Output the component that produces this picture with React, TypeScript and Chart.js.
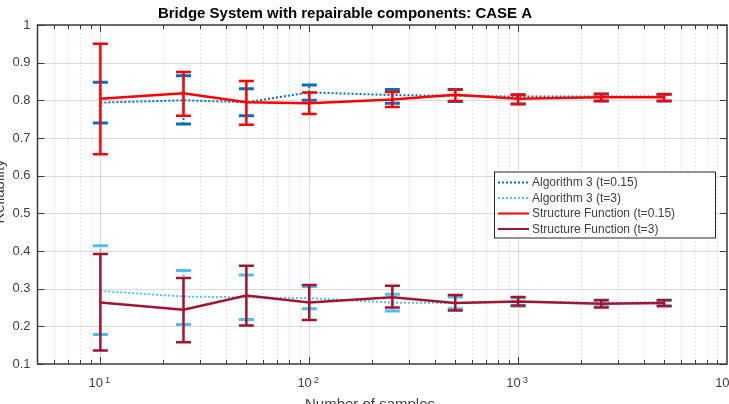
import React, { useEffect, useRef } from "react";
import { Chart, registerables } from "chart.js";

Chart.register(...registerables);

const FONT = '"Liberation Sans", Arial, Helvetica, sans-serif';

// Number of samples used for every estimate
const sampleSizes = [10, 25, 50, 100, 250, 500, 1000, 2500, 5000];

// Algorithm 3, t = 0.15
const alg3T015Mean = [0.794, 0.8, 0.795, 0.821, 0.814, 0.812, 0.81, 0.81, 0.81];
const alg3T015Low = [0.74, 0.737, 0.759, 0.8, 0.792, 0.797, 0.79, 0.798, 0.798];
const alg3T015High = [0.848, 0.865, 0.831, 0.841, 0.829, 0.829, 0.815, 0.817, 0.816];

// Algorithm 3, t = 3
const alg3T3Mean = [0.294, 0.279, 0.277, 0.275, 0.263, 0.262, 0.266, 0.262, 0.264];
const alg3T3Low = [0.178, 0.205, 0.218, 0.247, 0.241, 0.247, 0.253, 0.252, 0.255];
const alg3T3High = [0.414, 0.348, 0.336, 0.306, 0.285, 0.278, 0.276, 0.27, 0.27];

// Structure function, t = 0.15
const sfT015Mean = [0.804, 0.819, 0.795, 0.792, 0.802, 0.815, 0.804, 0.808, 0.808];
const sfT015Low = [0.657, 0.759, 0.735, 0.764, 0.782, 0.798, 0.79, 0.798, 0.798];
const sfT015High = [0.95, 0.875, 0.851, 0.821, 0.822, 0.828, 0.815, 0.817, 0.816];

// Structure function, t = 3
const sfT3Mean = [0.263, 0.244, 0.282, 0.263, 0.277, 0.262, 0.266, 0.26, 0.262];
const sfT3Low = [0.136, 0.158, 0.202, 0.217, 0.25, 0.242, 0.255, 0.25, 0.253];
const sfT3High = [0.392, 0.328, 0.361, 0.31, 0.308, 0.283, 0.278, 0.269, 0.269];

const seriesLabels = [
  "Algorithm 3 (t=0.15)",
  "Algorithm 3 (t=3)",
  "Structure Function (t=0.15)",
  "Structure Function (t=3)",
];

const titleText = "Bridge System with repairable components: CASE A";
const xAxisTitle = "Number of samples";
const yAxisTitle = "Reliability";

// Axis ranges and decade labels of the log axis
const xMin = 5;
const xMax = 10000;
const yMin = 0.1;
const yMax = 1;
const xDecades = [10, 100, 1000, 10000];
const xDecadeExponents = ["1", "2", "3", "4"];

const BLUE = "#0072BD";
const LIGHT_BLUE = "#4DBEEE";
const RED = "#FF0000";
const DARK_RED = "#A2142F";
const AXIS_COLOR = "#3a3a3a";
const TEXT_COLOR = "#404040";

function minorXValues(): number[] {
  const out: number[] = [];
  for (let d = 1; d < xMax; d *= 10) {
    for (let m = 2; m <= 9; m++) {
      const v = m * d;
      if (v > xMin && v < xMax) out.push(v);
    }
  }
  return out;
}

function yGridValues(): number[] {
  const out: number[] = [];
  for (let k = 1; k <= 10; k++) out.push(k / 10);
  return out;
}

type Series = {
  label: string;
  color: string;
  mean: number[];
  low: number[];
  high: number[];
  dotted: boolean;
  order: number;
};

const series: Series[] = [
  { label: seriesLabels[0], color: BLUE, mean: alg3T015Mean, low: alg3T015Low, high: alg3T015High, dotted: true, order: 4 },
  { label: seriesLabels[1], color: LIGHT_BLUE, mean: alg3T3Mean, low: alg3T3Low, high: alg3T3High, dotted: true, order: 3 },
  { label: seriesLabels[2], color: RED, mean: sfT015Mean, low: sfT015Low, high: sfT015High, dotted: false, order: 2 },
  { label: seriesLabels[3], color: DARK_RED, mean: sfT3Mean, low: sfT3Low, high: sfT3High, dotted: false, order: 1 },
];

// Grid lines under the data
const gridPlugin = {
  id: "matlabGrid",
  beforeDatasetsDraw(chart: any) {
    const { ctx, chartArea: a, scales } = chart;
    const xs = scales.x;
    const ys = scales.y;
    ctx.save();
    // minor dotted verticals
    ctx.strokeStyle = "rgba(38,38,38,0.16)";
    ctx.lineWidth = 1;
    ctx.setLineDash([1.5, 2.5]);
    for (const v of minorXValues()) {
      const px = Math.round(xs.getPixelForValue(v)) + 0.5;
      ctx.beginPath();
      ctx.moveTo(px, a.top);
      ctx.lineTo(px, a.bottom);
      ctx.stroke();
    }
    ctx.setLineDash([]);
    ctx.strokeStyle = "rgba(38,38,38,0.17)";
    for (const v of xDecades) {
      if (v <= xMin || v >= xMax) continue;
      const px = Math.round(xs.getPixelForValue(v)) + 0.5;
      ctx.beginPath();
      ctx.moveTo(px, a.top);
      ctx.lineTo(px, a.bottom);
      ctx.stroke();
    }
    for (const v of yGridValues()) {
      if (v <= yMin || v >= yMax) continue;
      const py = Math.round(ys.getPixelForValue(v)) + 0.5;
      ctx.beginPath();
      ctx.moveTo(a.left, py);
      ctx.lineTo(a.right, py);
      ctx.stroke();
    }
    ctx.restore();
  },
};

// Vertical error bars with caps, drawn right after each dataset's line
const errorBarPlugin = {
  id: "errorBars",
  afterDatasetDraw(chart: any, args: any) {
    const ds = chart.data.datasets[args.index] as any;
    if (!ds.errLow) return;
    const { ctx, scales } = chart;
    const xs = scales.x;
    const ys = scales.y;
    ctx.save();
    ctx.strokeStyle = ds.borderColor;
    ctx.lineCap = "butt";
    const half = 7.5;
    sampleSizes.forEach((n, i) => {
      const px = xs.getPixelForValue(n);
      const pLo = ys.getPixelForValue(ds.errLow[i]);
      const pHi = ys.getPixelForValue(ds.errHigh[i]);
      ctx.lineWidth = ds.dotted ? 2 : 2.5;
      ctx.setLineDash(ds.dotted ? [2, 2] : []);
      ctx.beginPath();
      ctx.moveTo(px, pLo);
      ctx.lineTo(px, pHi);
      ctx.stroke();
      ctx.setLineDash([]);
      ctx.lineWidth = ds.dotted ? 3 : 2.5;
      ctx.beginPath();
      ctx.moveTo(px - half, pLo);
      ctx.lineTo(px + half, pLo);
      ctx.moveTo(px - half, pHi);
      ctx.lineTo(px + half, pHi);
      ctx.stroke();
    });
    ctx.restore();
  },
};

// Axes box, inward ticks, decade labels, titles and legend
const framePlugin = {
  id: "matlabFrame",
  afterDraw(chart: any) {
    const { ctx, chartArea: a, scales } = chart;
    const xs = scales.x;
    const ys = scales.y;
    ctx.save();

    // ticks
    ctx.strokeStyle = AXIS_COLOR;
    ctx.lineWidth = 1;
    const major = 7;
    const minor = 4;
    const tickX = (v: number, len: number) => {
      const px = Math.round(xs.getPixelForValue(v)) + 0.5;
      ctx.beginPath();
      ctx.moveTo(px, a.bottom);
      ctx.lineTo(px, a.bottom - len);
      ctx.moveTo(px, a.top);
      ctx.lineTo(px, a.top + len);
      ctx.stroke();
    };
    for (const v of minorXValues()) tickX(v, minor);
    for (const v of xDecades) if (v > xMin && v < xMax) tickX(v, major);
    for (const v of yGridValues()) {
      const py = Math.round(ys.getPixelForValue(v)) + 0.5;
      ctx.beginPath();
      ctx.moveTo(a.left, py);
      ctx.lineTo(a.left + major, py);
      ctx.moveTo(a.right, py);
      ctx.lineTo(a.right - major, py);
      ctx.stroke();
    }

    // box
    ctx.lineWidth = 1.5;
    ctx.strokeRect(a.left, a.top, a.right - a.left, a.bottom - a.top);

    // decade labels 10^k
    ctx.fillStyle = TEXT_COLOR;
    ctx.textBaseline = "alphabetic";
    ctx.textAlign = "left";
    xDecades.forEach((v, i) => {
      const px = xs.getPixelForValue(v);
      ctx.font = `13px ${FONT}`;
      const wBase = ctx.measureText("10").width;
      ctx.font = `9.5px ${FONT}`;
      const wExp = ctx.measureText(xDecadeExponents[i]).width;
      const gap = 2;
      const left = px - 1 - (wBase + gap + wExp) / 2;
      ctx.font = `13px ${FONT}`;
      ctx.fillText("10", left, a.bottom + 23);
      ctx.font = `9.5px ${FONT}`;
      ctx.fillText(xDecadeExponents[i], left + wBase + gap, a.bottom + 18.5);
    });

    // title
    ctx.font = `bold 15px ${FONT}`;
    ctx.textAlign = "center";
    ctx.fillStyle = "#000000";
    ctx.fillText(titleText, 345, 18);

    // axis titles
    ctx.font = `15px ${FONT}`;
    ctx.fillStyle = TEXT_COLOR;
    ctx.fillText(xAxisTitle, 370, a.bottom + 45);
    ctx.save();
    ctx.translate(4, (a.top + a.bottom) / 2 - 3);
    ctx.rotate(-Math.PI / 2);
    ctx.fillText(yAxisTitle, 0, 0);
    ctx.restore();

    // legend
    const box = { left: 494, top: 171.5, right: 716, bottom: 238.5 };
    ctx.fillStyle = "#ffffff";
    ctx.fillRect(box.left, box.top, box.right - box.left, box.bottom - box.top);
    ctx.strokeStyle = "#262626";
    ctx.lineWidth = 1;
    ctx.strokeRect(box.left + 0.5, box.top + 0.5, box.right - box.left - 1, box.bottom - box.top - 1);
    const rowY = [182.5, 198, 213.5, 229];
    ctx.font = `12px ${FONT}`;
    ctx.textAlign = "left";
    ctx.textBaseline = "middle";
    chart.data.datasets.forEach((ds: any, i: number) => {
      const y = rowY[i];
      ctx.strokeStyle = ds.borderColor;
      ctx.lineWidth = 2;
      ctx.setLineDash(ds.dotted ? [2, 2] : []);
      ctx.beginPath();
      ctx.moveTo(498, y);
      ctx.lineTo(529, y);
      ctx.stroke();
      ctx.setLineDash([]);
      ctx.fillStyle = TEXT_COLOR;
      ctx.fillText(ds.label, 532, y + 0.5);
    });

    ctx.restore();
  },
};

export default function App() {
  const canvasRef = useRef<HTMLCanvasElement | null>(null);

  useEffect(() => {
    if (!canvasRef.current) return;
    const datasets = series.map((s) => ({
      label: s.label,
      data: sampleSizes.map((n, i) => ({ x: n, y: s.mean[i] })),
      borderColor: s.color,
      backgroundColor: s.color,
      borderWidth: s.dotted ? 2 : 2.5,
      borderDash: s.dotted ? [2, 2] : [],
      pointRadius: 0,
      fill: false,
      tension: 0,
      order: s.order,
      errLow: s.low,
      errHigh: s.high,
      dotted: s.dotted,
    }));

    const chart = new Chart(canvasRef.current, {
      type: "line",
      data: { datasets } as any,
      options: {
        animation: false,
        responsive: false,
        devicePixelRatio: 1,
        layout: { padding: { top: 25, right: 2, left: 0, bottom: 0 } },
        plugins: {
          legend: { display: false },
          tooltip: { enabled: false },
          title: { display: false },
        },
        scales: {
          x: {
            type: "logarithmic",
            min: xMin,
            max: xMax,
            grid: { display: false, drawTicks: false },
            border: { display: false },
            ticks: { display: false },
            afterFit: (s: any) => {
              s.height = 40;
            },
          },
          y: {
            type: "linear",
            min: yMin,
            max: yMax,
            grid: { display: false, drawTicks: false },
            border: { display: false },
            ticks: {
              stepSize: 0.1,
              padding: 7,
              color: TEXT_COLOR,
              font: { family: FONT, size: 13 },
              callback: (v: any) => String(Math.round(Number(v) * 10) / 10),
            },
            afterFit: (s: any) => {
              s.width = 37.5;
            },
          },
        },
      } as any,
      plugins: [gridPlugin, errorBarPlugin, framePlugin],
    });
    return () => chart.destroy();
  }, []);

  return (
    <div style={{ position: "absolute", left: 0, top: 0, width: 729, height: 404, background: "#ffffff" }}>
      <canvas ref={canvasRef} width={729} height={404} style={{ width: 729, height: 404, display: "block" }} />
    </div>
  );
}
